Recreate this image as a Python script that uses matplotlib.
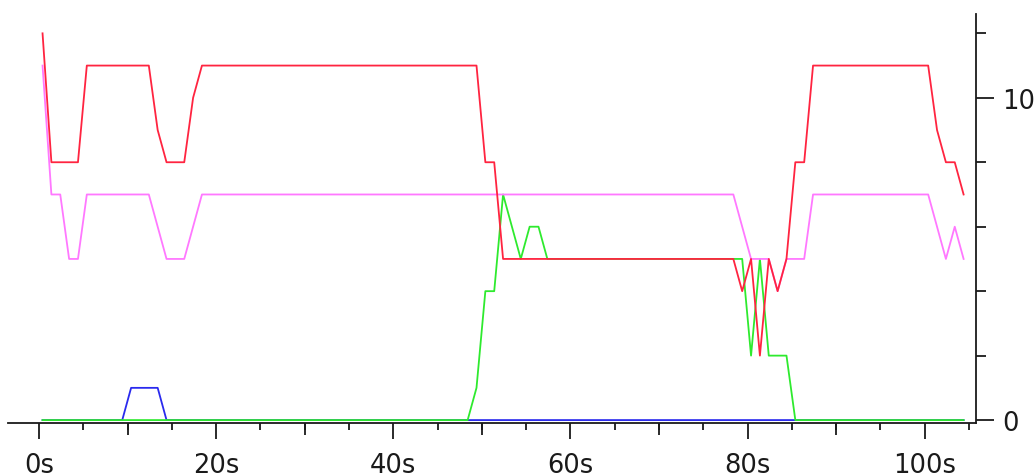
import matplotlib.pyplot as plt
from matplotlib.ticker import MultipleLocator, NullFormatter

# breakpoints of each trace (seconds, value)
red_t = [0.4, 1.4, 4.4, 5.4, 12.4, 13.4, 14.4, 16.4, 17.4, 18.4, 49.4, 50.4, 51.4, 52.4,
         78.4, 79.4, 80.4, 81.4, 82.4, 83.4, 84.4, 85.4, 86.4, 87.4, 100.4, 101.4, 102.4,
         103.4, 104.4]
red_v = [12, 8, 8, 11, 11, 9, 8, 8, 10, 11, 11, 8, 8, 5,
         5, 4, 5, 2, 5, 4, 5, 8, 8, 11, 11, 9, 8,
         8, 7]

pink_t = [0.4, 1.4, 2.4, 3.4, 4.4, 5.4, 12.4, 14.4, 16.4, 18.4, 78.4, 80.4, 82.4, 83.4,
          84.4, 86.4, 87.4, 100.4, 102.4, 103.4, 104.4]
pink_v = [11, 7, 7, 5, 5, 7, 7, 5, 5, 7, 7, 5, 5, 4,
          5, 5, 7, 7, 5, 6, 5]

green_t = [0.4, 48.4, 49.4, 50.4, 51.4, 52.4, 54.4, 55.4, 56.4, 57.4, 79.4, 80.4, 81.4,
           82.4, 84.4, 85.4, 104.4]
green_v = [0, 0, 1, 4, 4, 7, 5, 6, 6, 5, 5, 2, 5,
           2, 2, 0, 0]

blue_t = [0.4, 9.4, 10.4, 13.4, 14.4, 104.4]
blue_v = [0, 0, 1, 1, 0, 0]

xticks = [0, 20, 40, 60, 80, 100]
xtick_labels = ['0s', '20s', '40s', '60s', '80s', '100s']
mid_xticks = [10, 30, 50, 70, 90]
yticks = [0, 10]

W, H = 1036, 477
fig = plt.figure(figsize=(W / 100, H / 100), dpi=100)
ax = fig.add_axes([8 / W, 1 - 424.3 / H, (976 - 8) / W, (424.3 - 15) / H])

lw = 1.3
ax.plot(blue_t, blue_v, color='#2a2aee', lw=lw, zorder=3)
ax.plot(green_t, green_v, color='#2eea2e', lw=lw, zorder=3)
ax.plot(pink_t, pink_v, color='#ff78ff', lw=lw, zorder=3)
ax.plot(red_t, red_v, color='#ff2440', lw=lw, zorder=3)

ax.set_xlim(-3.5, 105.8)
ax.set_ylim(-0.1, 12.6)

for s in ['top', 'left']:
    ax.spines[s].set_visible(False)
for s in ['bottom', 'right']:
    ax.spines[s].set_linewidth(1.3)
    ax.spines[s].set_color('#1a1a1a')

ax.yaxis.tick_right()
ax.set_xticks(xticks, xtick_labels)
ax.xaxis.set_minor_locator(MultipleLocator(5))
ax.set_yticks(yticks)
ax.yaxis.set_minor_locator(MultipleLocator(2))

ax.tick_params(axis='x', which='major', length=11.5, width=1.3, color='#1a1a1a',
               labelsize=18.5, pad=9, labelcolor='#1a1a1a')
ax.tick_params(axis='x', which='minor', length=5.3, width=1.3, color='#1a1a1a')
ax.tick_params(axis='y', which='major', length=13, width=1.3, color='#1a1a1a',
               labelsize=18.5, pad=6, labelcolor='#1a1a1a')
ax.tick_params(axis='y', which='minor', length=7, width=1.3, color='#1a1a1a')

sec = ax.secondary_xaxis('bottom')
sec.set_xticks(mid_xticks)
sec.xaxis.set_major_formatter(NullFormatter())
sec.tick_params(axis='x', length=8.5, width=1.3, color='#1a1a1a')
sec.spines['bottom'].set_visible(False)

fig.savefig('out.png', dpi=100)
